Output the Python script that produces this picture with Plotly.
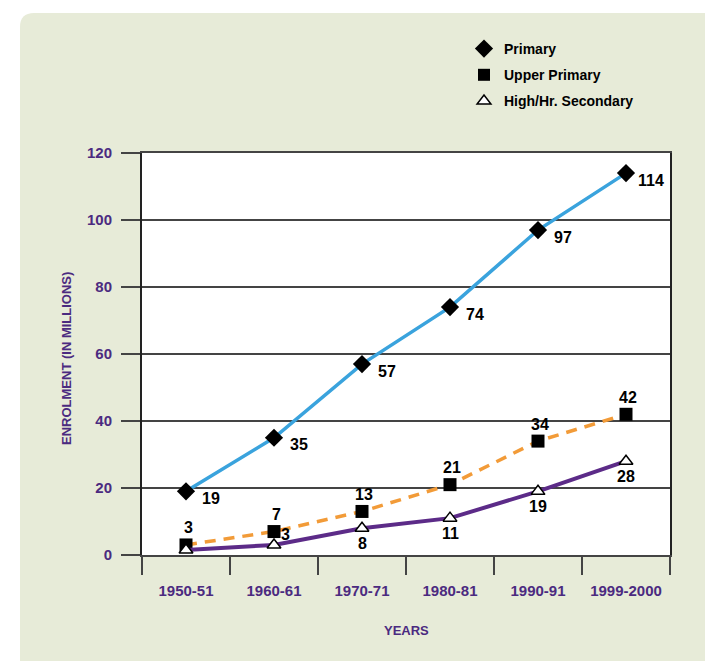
import plotly.graph_objects as go

# Enrolment by stage of school education (millions)
years = ["1950-51", "1960-61", "1970-71", "1980-81", "1990-91", "1999-2000"]
primary = [19, 35, 57, 74, 97, 114]
upper_primary = [3, 7, 13, 21, 34, 42]
high_secondary = [1.5, 3, 8, 11, 19, 28]
high_secondary_labelled = [False, True, True, True, True, True]
y_ticks = [0, 20, 40, 60, 80, 100, 120]

PURPLE_TEXT = "#4b2a80"
FONT = "Liberation Sans, Arial, sans-serif"

W, H = 705, 661
L, R, T, B = 142, 35, 153, 106
PW, PH = W - L - R, H - T - B


def px_x(p):
    return (p - L) / PW


def px_y(p):
    return (H - B - p) / PH


fig = go.Figure()

fig.add_trace(go.Scatter(
    x=years, y=primary, mode="lines+markers", showlegend=False,
    line=dict(color="#3aa3dd", width=3.5),
    marker=dict(symbol="diamond", size=14, color="black"),
    cliponaxis=False,
))
fig.add_trace(go.Scatter(
    x=years, y=upper_primary, mode="lines+markers", showlegend=False,
    line=dict(color="#f29b38", width=3.5, dash="11px,8px"),
    marker=dict(symbol="square", size=13, color="black"),
    cliponaxis=False,
))
fig.add_trace(go.Scatter(
    x=years, y=high_secondary, mode="lines+markers", showlegend=False,
    line=dict(color="#5c2b88", width=4),
    marker=dict(symbol="triangle-up", size=12, color="white",
                line=dict(color="black", width=1.5)),
    cliponaxis=False,
))

# Legend shows markers only
legend_items = [
    ("Primary", dict(symbol="diamond", size=14, color="black")),
    ("Upper Primary", dict(symbol="square", size=12, color="black")),
    ("High/Hr. Secondary", dict(symbol="triangle-up", size=12, color="white",
                                line=dict(color="black", width=1.5))),
]
for i, (name, mk) in enumerate(legend_items):
    fig.add_trace(go.Scatter(
        x=[None], y=[None], mode="markers", name=name, marker=mk,
        legendgroup=f"g{i}", showlegend=True,
    ))

# Value labels
label_font = dict(family=FONT, size=16, color="black", weight="bold")
annotations = []
for cat, v in zip(years, primary):
    annotations.append(dict(x=cat, y=v, text=f"{v:g}", showarrow=False,
                            xshift=25, yshift=-7, font=label_font))
for cat, v in zip(years, upper_primary):
    annotations.append(dict(x=cat, y=v, text=f"{v:g}", showarrow=False,
                            xshift=2, yshift=17, font=label_font))
for i, (cat, v, show) in enumerate(zip(years, high_secondary, high_secondary_labelled)):
    if not show:
        continue
    if i == 1:
        xs, ys = 11, 10
    else:
        xs, ys = 0, -15
    annotations.append(dict(x=cat, y=v, text=f"{v:g}", showarrow=False,
                            xshift=xs, yshift=ys, font=label_font))

title_font = dict(family=FONT, size=13, color=PURPLE_TEXT, weight="bold")
annotations.append(dict(xref="paper", yref="paper", x=px_x(66), y=px_y(359),
                        xanchor="center", yanchor="middle",
                        text="ENROLMENT (IN MILLIONS)", textangle=-90,
                        showarrow=False, font=title_font))
annotations.append(dict(xref="paper", yref="paper", x=px_x(406), y=px_y(630),
                        xanchor="center", yanchor="middle",
                        text="YEARS", showarrow=False, font=title_font))

# Background panel with rounded top-left corner, plus white plot area
x0, y1 = px_x(20), px_y(13)
x1, y0 = px_x(720), px_y(680)
rx, ry = 14 / PW, 14 / PH
panel_path = (f"M {x0},{y0} L {x0},{y1 - ry} Q {x0},{y1} {x0 + rx},{y1} "
              f"L {x1},{y1} L {x1},{y0} Z")
shapes = [
    dict(type="path", xref="paper", yref="paper", path=panel_path,
         fillcolor="#e7ebd8", line=dict(width=0), layer="below"),
    dict(type="rect", xref="paper", yref="paper", x0=0, x1=1, y0=0, y1=1,
         fillcolor="white", line=dict(width=0), layer="below"),
]

tick_font = dict(family=FONT, size=15, color=PURPLE_TEXT, weight="bold")

fig.update_layout(
    width=W, height=H, autosize=False,
    margin=dict(l=L, r=R, t=T, b=B),
    paper_bgcolor="white", plot_bgcolor="white",
    shapes=shapes, annotations=annotations,
    legend=dict(x=px_x(464), y=px_y(33), xanchor="left", yanchor="top",
                bgcolor="rgba(0,0,0,0)", tracegroupgap=5,
                font=dict(family=FONT, size=14, color="black", weight="bold")),
    xaxis=dict(type="category", range=[-0.5, 5.5], tickson="boundaries",
               ticks="outside", ticklen=18, tickwidth=2, tickcolor="#444",
               showgrid=False, showline=True, mirror=True, linecolor="#444",
               linewidth=2, tickfont=tick_font, tickangle=0,
               ticklabelstandoff=21, zeroline=False, fixedrange=True),
    yaxis=dict(range=[0, 120], tickvals=y_ticks, ticks="outside", ticklen=19,
               tickwidth=2, tickcolor="#444", showgrid=True, gridcolor="#444",
               gridwidth=2, showline=True, mirror=True, linecolor="#222",
               linewidth=2, tickfont=tick_font, ticklabelstandoff=6,
               zeroline=False, fixedrange=True),
)

fig.write_html("out.html")
